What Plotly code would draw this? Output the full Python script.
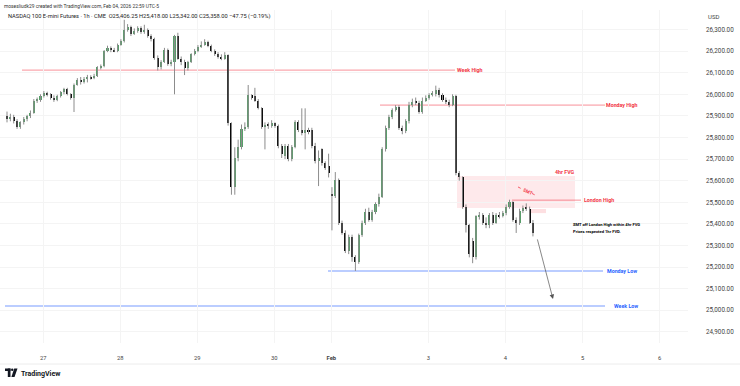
import plotly.graph_objects as go

# ---------------- data ----------------
opens = [25900, 25885, 25895, 25875, 25850, 25870, 25885, 25900, 25915, 25970,
         25975, 25990, 26005, 26000, 25985, 25975, 25990, 26010, 26025, 26000,
         25985, 26045, 26065, 26055, 26070, 26080, 26075, 26085, 26125, 26130,
         26200, 26215, 26205, 26200, 26230, 26245, 26300, 26310, 26280, 26295,
         26305, 26290, 26300, 26270, 26255, 26170, 26125, 26150, 26205, 26140,
         26150, 26270, 26165, 26150, 26120, 26150, 26185, 26200, 26220, 26230,
         26240, 26225, 26200, 26185, 26175, 26165, 26180, 25865, 25570, 25705,
         25755, 25840, 25850, 25995, 25990, 25970, 25935, 25850, 25860, 25855,
         25865, 25855, 25760, 25715, 25760, 25700, 25755, 25870, 25835, 25820,
         25835, 25835, 25760, 25690, 25745, 25680, 25670, 25540, 25530, 25605,
         25405, 25360, 25275, 25340, 25245, 25225, 25350, 25405, 25455, 25420,
         25455, 25490, 25525, 25745, 25845, 25895, 25925, 25940, 25845, 25830,
         25875, 25950, 25965, 25960, 25920, 25970, 25985, 25995, 26000, 26020,
         25995, 25975, 25965, 25950, 25990, 25635, 25615, 25480, 25395, 25320,
         25245, 25435, 25440, 25405, 25395, 25440, 25405, 25440, 25435, 25450,
         25480, 25500, 25420, 25405, 25460, 25475, 25470, 25406.25]
highs = [25920, 25910, 25905, 25885, 25875, 25895, 25905, 25925, 25978, 25985,
         26000, 26015, 26012, 26005, 25995, 25998, 26015, 26030, 26030, 26005,
         26050, 26075, 26080, 26080, 26090, 26088, 26095, 26130, 26138, 26205,
         26225, 26222, 26215, 26235, 26255, 26345, 26325, 26318, 26305, 26315,
         26315, 26322, 26305, 26278, 26262, 26180, 26158, 26215, 26212, 26160,
         26275, 26285, 26175, 26160, 26155, 26190, 26210, 26228, 26245, 26255,
         26248, 26230, 26208, 26195, 26185, 26195, 26185, 25870, 25755, 25790,
         25860, 25870, 26043, 26000, 26030, 25978, 25940, 25870, 25870, 25880,
         25870, 25860, 25770, 25770, 25770, 25765, 25880, 25880, 25935, 25935,
         25845, 25845, 25775, 25740, 25750, 25690, 25725, 25570, 25640, 25610,
         25415, 25370, 25350, 25350, 25255, 25355, 25415, 25470, 25475, 25465,
         25500, 25540, 25755, 25855, 25905, 25935, 25950, 25950, 25855, 25885,
         25965, 25980, 25985, 25970, 25985, 25995, 26005, 26015, 26040, 26030,
         26005, 25985, 25975, 26000, 25998, 25645, 25620, 25490, 25400, 25335,
         25440, 25455, 25450, 25430, 25450, 25455, 25450, 25455, 25460, 25490,
         25512, 25505, 25430, 25470, 25485, 25495, 25480, 25418]
lows = [25870, 25875, 25865, 25840, 25840, 25860, 25875, 25890, 25910, 25960,
        25965, 25985, 25990, 25975, 25965, 25968, 25985, 26000, 25995, 25975,
        25918, 26040, 26045, 26050, 26055, 26068, 26070, 26080, 26115, 26125,
        26195, 26195, 26195, 26195, 26225, 26240, 26290, 26270, 26275, 26285,
        26280, 26280, 26262, 26245, 26160, 26110, 26115, 26145, 26132, 26130,
        26000, 26160, 26135, 26089, 26110, 26145, 26180, 26195, 26215, 26225,
        26218, 26195, 26178, 26165, 26158, 26160, 25855, 25535, 25535, 25690,
        25745, 25830, 25840, 25975, 25965, 25930, 25840, 25745, 25840, 25845,
        25845, 25750, 25705, 25700, 25690, 25690, 25750, 25825, 25810, 25745,
        25815, 25750, 25680, 25575, 25670, 25650, 25615, 25370, 25520, 25395,
        25350, 25265, 25260, 25225, 25182, 25215, 25340, 25395, 25410, 25410,
        25445, 25480, 25520, 25735, 25835, 25885, 25920, 25835, 25815, 25820,
        25865, 25940, 25950, 25910, 25910, 25965, 25975, 25990, 25990, 25985,
        25965, 25955, 25940, 25945, 25625, 25600, 25470, 25360, 25245, 25218,
        25235, 25420, 25395, 25380, 25380, 25395, 25400, 25425, 25430, 25440,
        25470, 25410, 25358, 25395, 25450, 25460, 25400, 25342]
closes = [25885, 25895, 25875, 25850, 25870, 25885, 25900, 25915, 25970, 25975,
          25990, 26005, 26000, 25985, 25975, 25990, 26010, 26025, 26000, 25985,
          26045, 26065, 26055, 26070, 26080, 26075, 26085, 26125, 26130, 26200,
          26215, 26205, 26200, 26230, 26245, 26300, 26310, 26280, 26295, 26305,
          26290, 26300, 26270, 26255, 26170, 26125, 26150, 26205, 26140, 26150,
          26270, 26165, 26150, 26120, 26150, 26185, 26200, 26220, 26230, 26240,
          26225, 26200, 26185, 26175, 26165, 26180, 25865, 25570, 25705, 25755,
          25840, 25850, 25995, 25985, 25970, 25935, 25850, 25860, 25855, 25865,
          25855, 25760, 25725, 25760, 25700, 25755, 25870, 25835, 25820, 25835,
          25830, 25760, 25690, 25705, 25680, 25660, 25635, 25530, 25605, 25405,
          25360, 25275, 25340, 25245, 25225, 25350, 25405, 25455, 25420, 25455,
          25490, 25525, 25745, 25845, 25895, 25925, 25940, 25845, 25830, 25875,
          25950, 25965, 25960, 25920, 25970, 25985, 25995, 26005, 26020, 25995,
          25975, 25965, 25950, 25990, 25635, 25615, 25480, 25395, 25260, 25245,
          25435, 25440, 25405, 25395, 25440, 25405, 25440, 25435, 25450, 25480,
          25500, 25420, 25405, 25460, 25475, 25470, 25406.25, 25358]

day_tick_bars = [10.8, 33.8, 56.8, 79.8, 96.8, 125.8, 148.8, 171.8, 194.8]
day_tick_labels = ["27", "28", "29", "30", "<b>Feb</b>", "3", "4", "5", "6"]
price_ticks = [24900, 25000, 25100, 25200, 25300, 25400, 25500, 25600, 25700,
               25800, 25900, 26000, 26100, 26200, 26300]

week_high = 26112
monday_high = 25950
london_high = 25510
monday_low = 25182
week_low = 25020
fvg4_top, fvg4_bottom = 25622, 25474
fvg1_top, fvg1_bottom = 25469, 25450
smt_points = [25571, 25559, 25541, 25529]
arrow_from, arrow_to = 25335, 25052
note_lines = ["SMT off London High within 4hr FVG", "Prices respected 1hr FVD."]
note_levels = [25395, 25363]

header1 = "mosesliudk29 created with TradingView.com, Feb 04, 2026 22:59 UTC-5"
header2 = ("NASDAQ 100 E-mini Futures · 1h · CME  O25,406.25 H25,418.00 "
           "L25,342.00 C25,358.00 −47.75 (−0.19%)")

# ---------------- figure ----------------
FONT = "Roboto, Liberation Sans, Arial, sans-serif"
RED = "#f23645"
RED_LINE = "rgba(242,54,69,0.55)"
BLUE = "#2962ff"
BLUE_LINE = "rgba(41,98,255,0.42)"
UP = "#579e69"
DOWN = "#000000"
WICK = "#8c8c8c"

idx = list(range(len(closes)))

W, H = 740, 386
ML, MR, MT, MB = 0, 52, 10, 43
PW, PH = W - ML - MR, H - MT - MB
X0, DX = 7.0, 3.35  # pixel of bar 0 and pixel spacing


def bx(px):  # pixel x -> bar index
    return (px - X0) / DX


def py(px_y):  # pixel y -> paper y
    return (H - MB - px_y) / PH


def pxx(px_x):  # pixel x -> paper x
    return (px_x - ML) / PW


fig = go.Figure()

# wicks
wx, wy = [], []
for i in idx:
    wx += [i, i, None]
    wy += [lows[i], highs[i], None]
fig.add_trace(go.Scatter(x=wx, y=wy, mode="lines",
                         line=dict(color=WICK, width=1), hoverinfo="skip"))

# bodies
body_base = [min(o, c) for o, c in zip(opens, closes)]
body_len = [max(abs(c - o), 4) for o, c in zip(opens, closes)]
body_col = [UP if c >= o else DOWN for o, c in zip(opens, closes)]
fig.add_trace(go.Bar(x=idx, y=body_len, base=body_base, width=0.62,
                     marker=dict(color=body_col, line=dict(width=0))))

shapes = []


def hline(y, x0px, x1px, color, width=1, dash="solid"):
    shapes.append(dict(type="line", xref="x", yref="y", x0=bx(x0px), x1=bx(x1px),
                       y0=y, y1=y, line=dict(color=color, width=width, dash=dash),
                       layer="below"))


# FVG boxes
shapes.append(dict(type="rect", xref="x", yref="y", x0=bx(457), x1=bx(575),
                   y0=fvg4_bottom, y1=fvg4_top, fillcolor="rgba(242,54,69,0.11)",
                   line=dict(width=0), layer="below"))
shapes.append(dict(type="rect", xref="x", yref="y", x0=bx(529), x1=bx(546),
                   y0=fvg1_bottom, y1=fvg1_top, fillcolor="rgba(242,54,69,0.16)",
                   line=dict(width=0), layer="below"))

hline(week_high, 22, 455, RED_LINE)
hline(monday_high, 380, 605, RED_LINE)
hline(london_high, 512, 581, RED_LINE)
hline(monday_low, 328, 603, BLUE_LINE, 1.6)
hline(week_low, 5, 605, BLUE_LINE, 1.6)

# SMT dashed segments
shapes.append(dict(type="line", xref="x", yref="y", x0=bx(518), x1=bx(523),
                   y0=smt_points[0], y1=smt_points[1],
                   line=dict(color=RED, width=0.8, dash="dot")))
shapes.append(dict(type="line", xref="x", yref="y", x0=bx(532), x1=bx(537),
                   y0=smt_points[2], y1=smt_points[3],
                   line=dict(color=RED, width=0.8, dash="dot")))

# bottom separator
shapes.append(dict(type="line", xref="paper", yref="paper", x0=0, x1=W / PW,
                   y0=py(364), y1=py(364), line=dict(color="#ececec", width=1)))

# TradingView logo glyph
shapes.append(dict(type="rect", xref="paper", yref="paper", x0=pxx(5), x1=pxx(10.5),
                   y0=py(371), y1=py(368.5), fillcolor="#131722", line=dict(width=0)))
shapes.append(dict(type="rect", xref="paper", yref="paper", x0=pxx(7.8), x1=pxx(10.5),
                   y0=py(377), y1=py(368.5), fillcolor="#131722", line=dict(width=0)))
shapes.append(dict(type="circle", xref="paper", yref="paper", x0=pxx(11), x1=pxx(13.4),
                   y0=py(371), y1=py(368.5), fillcolor="#131722", line=dict(width=0)))
shapes.append(dict(type="path", xref="paper", yref="paper",
                   path=f"M {pxx(14.2)},{py(368.5)} L {pxx(17.5)},{py(368.5)} "
                        f"L {pxx(14.5)},{py(377)} L {pxx(11.4)},{py(377)} Z",
                   fillcolor="#131722", line=dict(width=0)))

annotations = []


def label(text, xpx, y, color, size=5.3, bold=True, anchor="center"):
    annotations.append(dict(x=bx(xpx), y=y, xref="x", yref="y", showarrow=False,
                            text=f"<b>{text}</b>" if bold else text,
                            font=dict(family=FONT, size=size, color=color),
                            xanchor=anchor, yanchor="middle"))


label("Week High", 470, week_high, RED)
label("Monday High", 622, monday_high, RED)
label("London High", 599, london_high, RED)
label("4hr FVG", 565, 25640, RED)
label("Monday Low", 622, monday_low, BLUE)
label("Week Low", 626, week_low, BLUE)

annotations.append(dict(x=bx(527.5), y=(smt_points[1] + smt_points[2]) / 2, xref="x",
                        yref="y", showarrow=False, text="<b>SMT</b>", textangle=25,
                        font=dict(family=FONT, size=4.6, color=RED)))

for line_text, lvl in zip(note_lines, note_levels):
    annotations.append(dict(x=bx(571), y=lvl, xref="x", yref="y", showarrow=False,
                            text=f"<b>{line_text}</b>", xanchor="left", yanchor="middle",
                            font=dict(family=FONT, size=4.1, color="#000000")))

annotations.append(dict(x=bx(553), y=arrow_to, ax=bx(537), ay=arrow_from,
                        xref="x", yref="y", axref="x", ayref="y", showarrow=True,
                        arrowhead=2, arrowsize=1.3, arrowwidth=0.7, arrowcolor="#555",
                        text=""))

# header & footer texts
annotations.append(dict(x=pxx(2), y=py(6), xref="paper", yref="paper", showarrow=False,
                        text=header1, xanchor="left", yanchor="middle",
                        font=dict(family=FONT, size=4.9, color="#333")))
annotations.append(dict(x=pxx(6), y=py(17), xref="paper", yref="paper", showarrow=False,
                        text=header2, xanchor="left", yanchor="middle",
                        font=dict(family=FONT, size=5.7, color="#222")))
annotations.append(dict(x=pxx(713), y=py(17), xref="paper", yref="paper", showarrow=False,
                        text="USD", xanchor="center", yanchor="middle",
                        font=dict(family=FONT, size=6, color="#444")))
annotations.append(dict(x=pxx(18.5), y=py(374), xref="paper", yref="paper", showarrow=False,
                        text="<b>TradingView</b>", xanchor="left", yanchor="middle",
                        font=dict(family=FONT, size=7.0, color="#131722")))

fig.update_layout(
    width=W, height=H, margin=dict(l=ML, r=MR, t=MT, b=MB, pad=0),
    paper_bgcolor="white", plot_bgcolor="white", showlegend=False,
    barmode="overlay", bargap=0,
    font=dict(family=FONT),
    shapes=shapes, annotations=annotations,
    xaxis=dict(range=[bx(0), bx(PW)], tickvals=day_tick_bars, ticktext=day_tick_labels,
               showgrid=True, gridcolor="#f4f4f4", gridwidth=1, zeroline=False,
               showline=False, ticks="", tickfont=dict(size=5.8, color="#444"),
               ticklabelstandoff=10, fixedrange=True),
    yaxis=dict(range=[26300 - (H - MB - 29.5) * 4.63, 26300 + (29.5 - MT) * 4.63],
               side="right", tickvals=price_ticks, tickformat=",.2f",
               showgrid=True, gridcolor="#f4f4f4", gridwidth=1, zeroline=False,
               showline=False, ticks="", tickfont=dict(size=6.3, color="#444"),
               ticklabelstandoff=17, fixedrange=True),
)

fig.write_html("out.html", config={"displayModeBar": False},
               post_script="document.body.style.margin='0px';document.body.style.padding='0px';")
